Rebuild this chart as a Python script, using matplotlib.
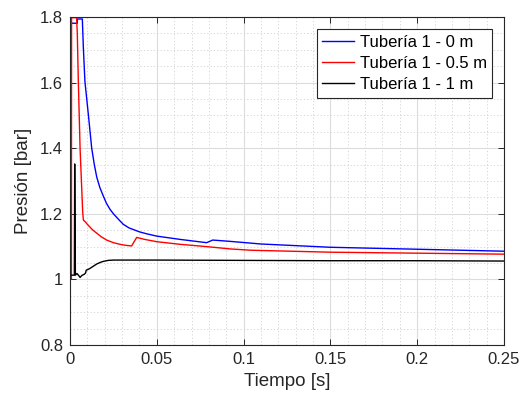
import matplotlib
matplotlib.use("Agg")
import matplotlib.pyplot as plt
from matplotlib.ticker import MultipleLocator, FuncFormatter

# ==================== DATA ====================
t_0m = [0, 0.0042, 0.0043, 0.0071, 0.0077, 0.0086, 0.0106, 0.0125, 0.0140, 0.0154,
        0.0172, 0.0192, 0.0210, 0.0230, 0.0250, 0.0285, 0.0307, 0.0340, 0.0400,
        0.0442, 0.0500, 0.0634, 0.0787, 0.0822, 0.0922, 0.1100, 0.1500, 0.2000, 0.2500]
p_0m = [1.781, 1.781, 1.794, 1.794, 1.705, 1.603, 1.501, 1.400, 1.350, 1.312,
        1.280, 1.254, 1.232, 1.214, 1.200, 1.180, 1.168, 1.157, 1.145,
        1.139, 1.132, 1.122, 1.112, 1.120, 1.116, 1.108, 1.098, 1.092, 1.086]

t_05m = [0, 0.0008, 0.0009, 0.0038, 0.0042, 0.0048, 0.0058, 0.0073, 0.0077, 0.0087,
         0.0100, 0.0130, 0.0154, 0.0180, 0.0211, 0.0250, 0.0288, 0.0320, 0.0355,
         0.0384, 0.0430, 0.0500, 0.0634, 0.0787, 0.0922, 0.1040, 0.1500, 0.2000, 0.2500]
p_05m = [1.002, 1.002, 1.798, 1.798, 1.750, 1.603, 1.400, 1.206, 1.181, 1.176,
         1.168, 1.151, 1.141, 1.130, 1.120, 1.112, 1.107, 1.104, 1.102,
         1.128, 1.122, 1.115, 1.107, 1.100, 1.093, 1.089, 1.083, 1.080, 1.077]

t_1m = [0, 0.0025, 0.0027, 0.0031, 0.0040, 0.0050, 0.0058, 0.0068, 0.0083, 0.0090,
        0.0093, 0.0110, 0.0125, 0.0154, 0.0175, 0.0192, 0.0220, 0.0250, 0.0500,
        0.1000, 0.1500, 0.2000, 0.2500]
p_1m = [1.013, 1.013, 1.352, 1.013, 1.018, 1.012, 1.006, 1.012, 1.016, 1.020,
        1.028, 1.032, 1.037, 1.047, 1.052, 1.055, 1.058, 1.059, 1.059,
        1.058, 1.057, 1.057, 1.056]

labels = ["Tubería 1 - 0 m", "Tubería 1 - 0.5 m", "Tubería 1 - 1 m"]
# ======================================================================

plt.rcParams["font.family"] = ["Liberation Sans", "DejaVu Sans"]

fig = plt.figure(figsize=(5.24, 4.05), dpi=100)
ax = fig.add_axes([0.1336, 0.1481, 0.8282, 0.8099])

ax.plot(t_0m, p_0m, color="#0000ff", lw=1.0, label=labels[0])
ax.plot(t_05m, p_05m, color="#ff0000", lw=1.0, label=labels[1])
ax.plot(t_1m, p_1m, color="#000000", lw=1.0, label=labels[2])

ax.set_xlim(0, 0.25)
ax.set_ylim(0.8, 1.8)
ax.xaxis.set_major_locator(MultipleLocator(0.05))
ax.xaxis.set_minor_locator(MultipleLocator(0.01))
ax.yaxis.set_major_locator(MultipleLocator(0.2))
ax.yaxis.set_minor_locator(MultipleLocator(0.05))
fmt = FuncFormatter(lambda v, p: f"{v:.10g}" if abs(v) > 1e-12 else "0")
ax.xaxis.set_major_formatter(fmt)
ax.yaxis.set_major_formatter(fmt)

ax.grid(True, which="major", color="#dcdcdc", lw=0.8, ls="-")
ax.grid(True, which="minor", color="#d0d0d0", lw=0.6, ls=(0, (1.5, 2.5)))
ax.set_axisbelow(True)

ax.tick_params(which="major", direction="in", length=4, width=0.7, colors="#262626",
               labelsize=12, top=True, right=True, pad=5)
ax.tick_params(which="minor", length=0, top=True, right=True)
for s in ax.spines.values():
    s.set_color("#262626")
    s.set_linewidth(0.8)

ax.set_xlabel("Tiempo [s]", fontsize=13.5, color="#262626", labelpad=4)
ax.set_ylabel("Presión [bar]", fontsize=13.5, color="#262626", labelpad=6)

leg = ax.legend(loc="upper right", bbox_to_anchor=(0.973, 0.9625), borderaxespad=0,
                fontsize=12, fancybox=False, framealpha=1, edgecolor="#262626",
                handlelength=1.9, handletextpad=0.35, labelspacing=0.38,
                borderpad=0.32)
leg.get_frame().set_linewidth(0.8)

fig.savefig("out.png", dpi=100)
